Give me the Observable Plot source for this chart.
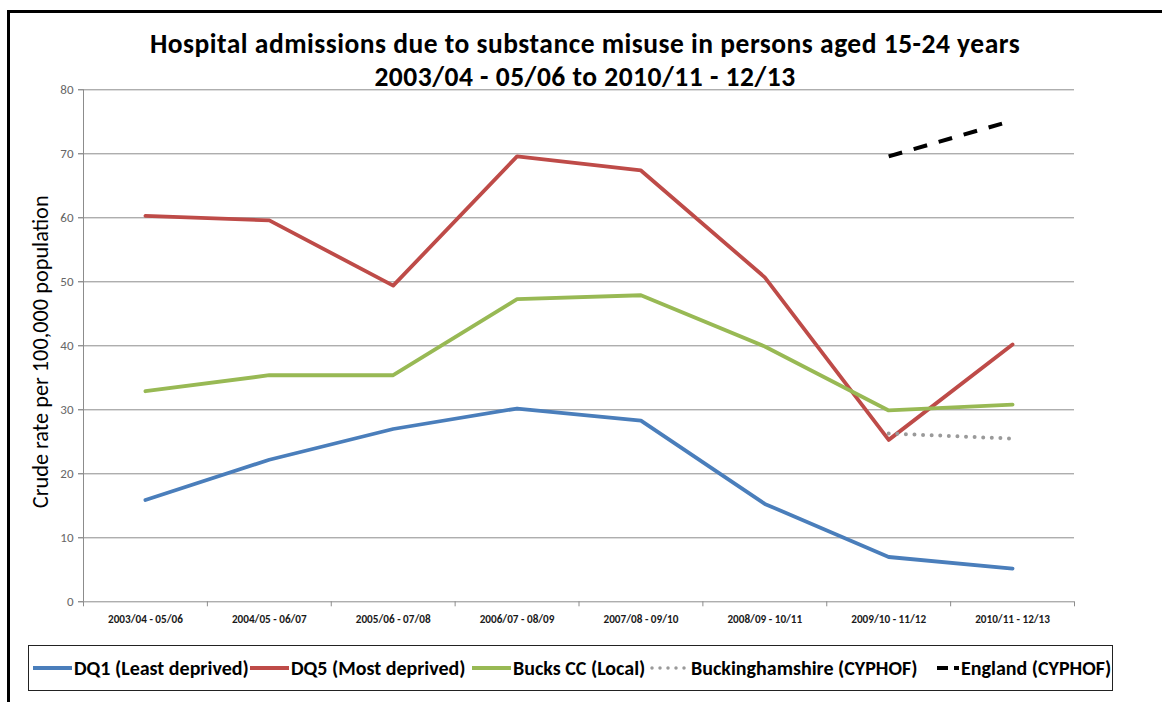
<!DOCTYPE html>
<html>
<head>
<meta charset="utf-8">
<script src="https://cdn.jsdelivr.net/npm/d3@7"></script>
<script src="https://cdn.jsdelivr.net/npm/@observablehq/plot@0.6"></script>
<style>
  html, body { margin: 0; padding: 0; background: #fff; }
  body { width: 1162px; height: 702px; position: relative; overflow: hidden; font-family: Calibri, Carlito, Lato, sans-serif; }
  #frame { position: absolute; left: 7px; top: 10px; width: 1200px; height: 800px; border-left: 3px solid #000; border-top: 3px solid #000; }
  #title { position: absolute; left: 0; top: 27px; width: 1170px; text-align: center; font-weight: bold; font-size: 27.5px; letter-spacing: 0.5px; line-height: 33px; color: #000; }
  #chart { position: absolute; left: 0; top: 70px; }
  #legend { position: absolute; left: 28px; top: 645px; width: 1085px; height: 46px; border: 1px solid #222; box-sizing: border-box; font-weight: bold; font-size: 20px; color: #000; white-space: nowrap; }
  .item { position: absolute; top: 0; height: 44px; display: flex; align-items: center; }
  .item svg { margin-right: 2px; }
</style>
</head>
<body>
<div id="frame"></div>
<div id="title"></div>
<div id="chart"></div>
<div id="legend"></div>
<script>
const titleLines = [
  "Hospital admissions due to substance misuse in persons aged 15-24 years",
  "2003/04 - 05/06 to 2010/11 - 12/13"
];
const yLabel = "Crude rate per 100,000 population";
const categories = [
  "2003/04 - 05/06", "2004/05 - 06/07", "2005/06 - 07/08", "2006/07 - 08/09",
  "2007/08 - 09/10", "2008/09 - 10/11", "2009/10 - 11/12", "2010/11 - 12/13"
];
const yTicks = [0, 10, 20, 30, 40, 50, 60, 70, 80];
const seriesNames = ["DQ1 (Least deprived)", "DQ5 (Most deprived)", "Bucks CC (Local)", "Buckinghamshire (CYPHOF)", "England (CYPHOF)"];
const dq1 = [15.9, 22.2, 27.0, 30.2, 28.3, 15.3, 7.0, 5.2];
const dq5 = [60.3, 59.6, 49.4, 69.6, 67.4, 50.7, 25.3, 40.2];
const bucksCC = [32.9, 35.4, 35.4, 47.3, 47.9, 39.9, 29.9, 30.8];
const buckinghamshire = [null, null, null, null, null, null, 26.3, 25.5];
const england = [null, null, null, null, null, null, 69.6, 75.2];

const seriesValues = [dq1, dq5, bucksCC, buckinghamshire, england];
const styles = [
  {stroke: "#4A7EBB", strokeWidth: 3.8},
  {stroke: "#BE4B48", strokeWidth: 3.8},
  {stroke: "#98B954", strokeWidth: 3.8},
  {stroke: "#9a9a9a", strokeWidth: 4, strokeDasharray: "0 8.6", strokeLinecap: "round"},
  {stroke: "#000000", strokeWidth: 4, strokeDasharray: "14 12", strokeLinecap: "butt"}
];

document.getElementById("title").innerHTML = titleLines.map(t => `<div>${t}</div>`).join("");

const boundaries = d3.range(-0.5, categories.length, 1);
const idx = d3.range(categories.length);

const lineMarks = seriesValues.map((vals, s) => {
  const rows = vals.map((v, i) => ({i, v, series: seriesNames[s]})).filter(d => d.v != null);
  return Plot.lineY(rows, {x: "i", y: "v", ...styles[s]});
});

const chart = Plot.plot({
  width: 1162,
  height: 560,
  marginLeft: 83,
  marginRight: 88,
  marginTop: 19.3,
  marginBottom: 28.7,
  style: {fontFamily: "Calibri, Carlito, Lato, sans-serif", background: "transparent"},
  x: {domain: [-0.5, categories.length - 0.5]},
  y: {domain: [0, 80]},
  marks: [
    Plot.ruleY(yTicks, {stroke: "#8c8c8c", strokeWidth: 1}),
    Plot.ruleX([-0.5], {stroke: "#8c8c8c", strokeWidth: 1}),
    Plot.axisY({ticks: yTicks, tickSize: 5, tickPadding: 5, fontSize: 13, color: "#666", label: null}),
    Plot.axisX({ticks: boundaries, tickSize: 5, tickFormat: () => "", color: "#8c8c8c", label: null}),
    Plot.axisX({ticks: idx, tickSize: 0, tickPadding: 13, tickFormat: i => categories[i], fontSize: 11.2, fontWeight: "bold", fill: "#1a1a1a", label: null}),
    ...lineMarks,
    Plot.text([yLabel], {frameAnchor: "left", dx: -43, dy: 6, rotate: -90, textAnchor: "middle", fontSize: 22.3, fill: "#000", text: d => d})
  ]
});
document.getElementById("chart").appendChild(chart);

// legend layout (relative to legend box left edge)
const legendLeft = [4, 221, 443, 620, 908];
const swatchW = [39, 39, 39, 40, 22];
const legend = document.getElementById("legend");
seriesNames.forEach((name, s) => {
  const st = styles[s];
  const item = document.createElement("div");
  item.className = "item";
  item.style.left = legendLeft[s] + "px";
  const w = swatchW[s];
  let line;
  if (s === 3) line = `<line x1="3" y1="5" x2="${w - 2}" y2="5" stroke="${st.stroke}" stroke-width="3.5" stroke-dasharray="0 8" stroke-linecap="round"/>`;
  else if (s === 4) line = `<line x1="0" y1="5" x2="${w}" y2="5" stroke="${st.stroke}" stroke-width="4" stroke-dasharray="11 6 5"/>`;
  else line = `<line x1="0" y1="5" x2="${w}" y2="5" stroke="${st.stroke}" stroke-width="4"/>`;
  item.innerHTML = `<svg width="${w}" height="10">${line}</svg><span>${name}</span>`;
  legend.appendChild(item);
});
</script>
</body>
</html>
